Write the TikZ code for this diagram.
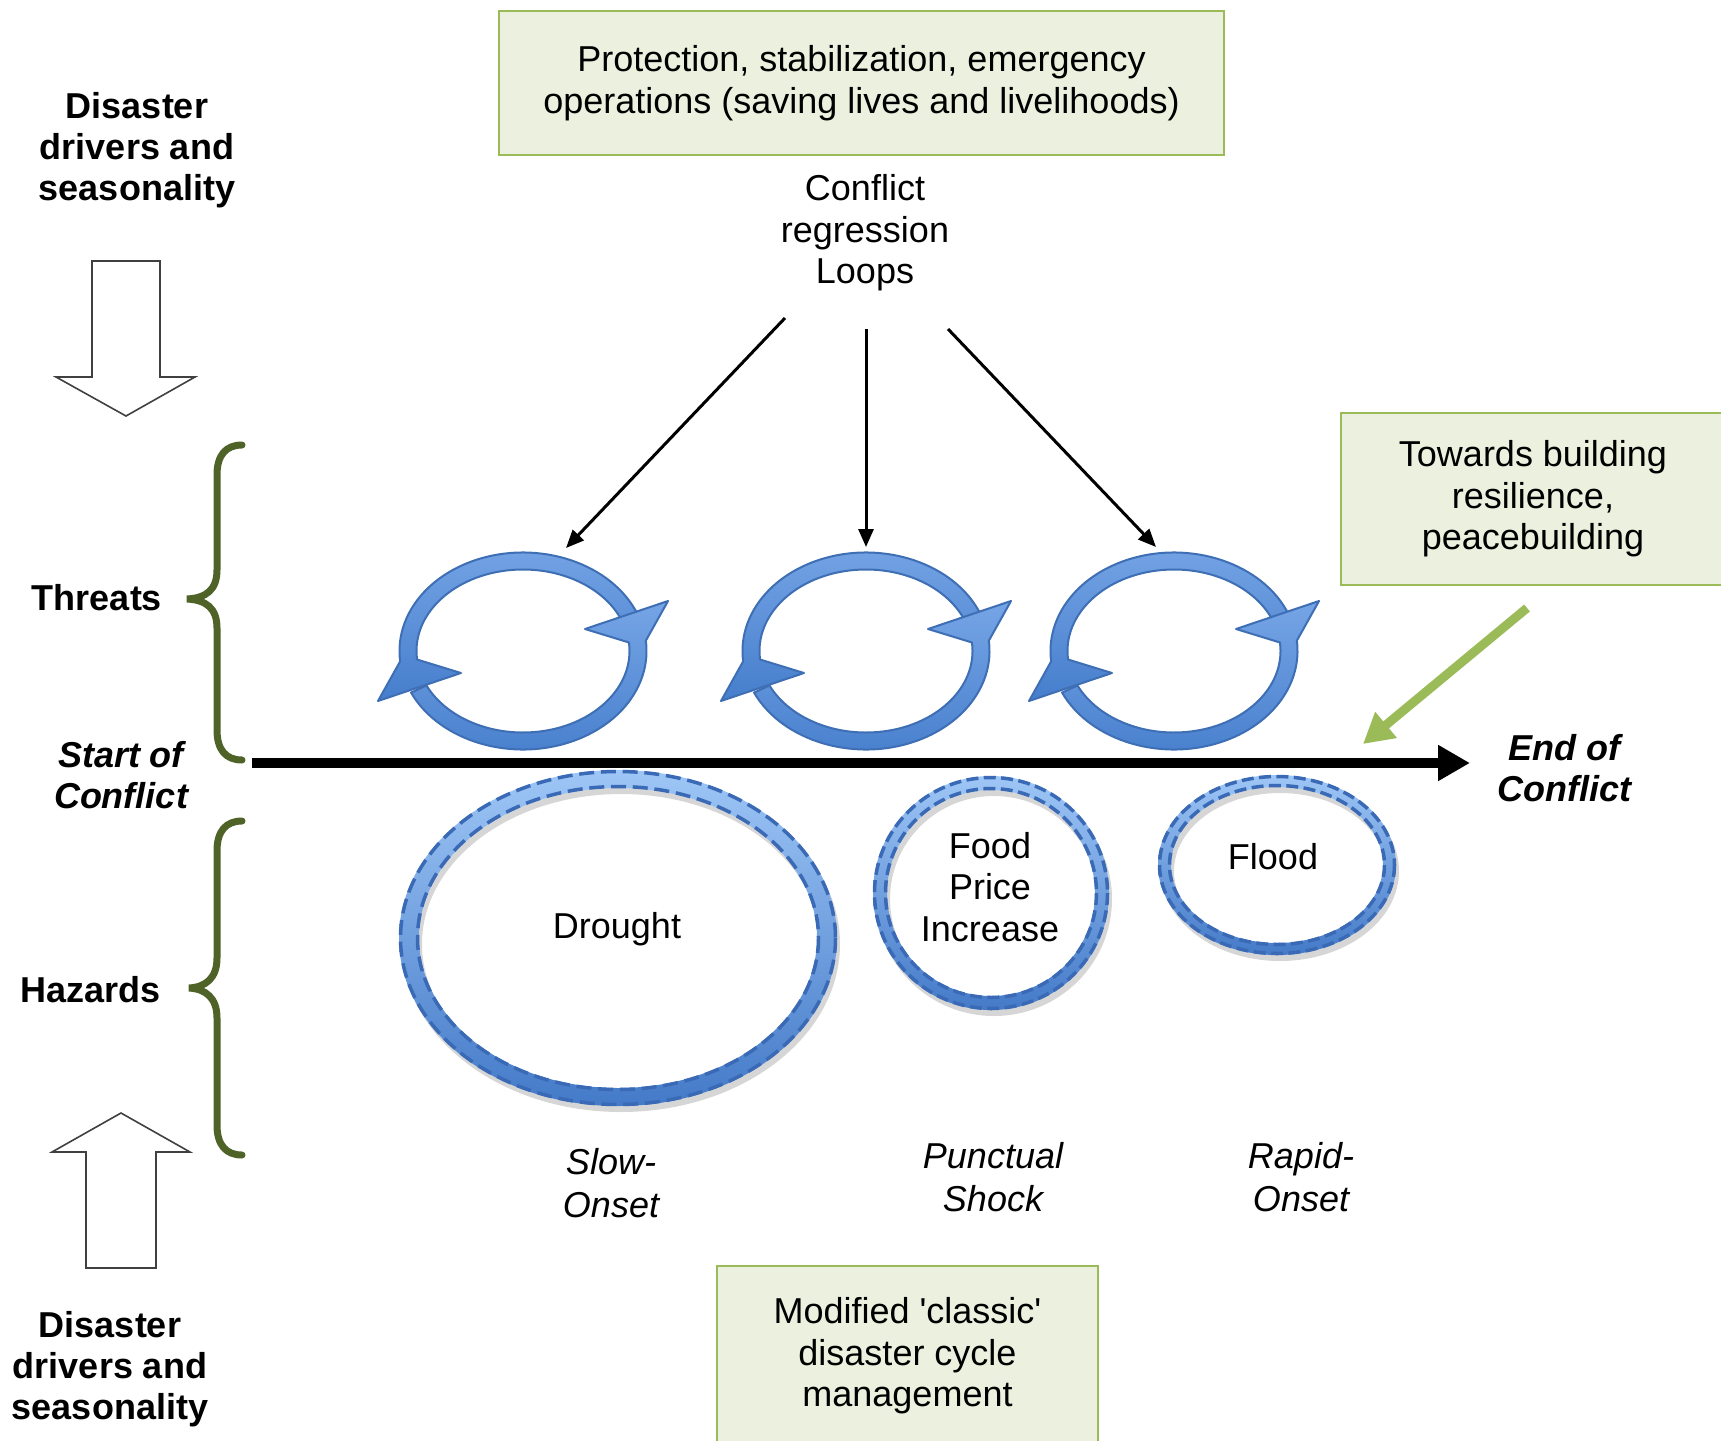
\documentclass[tikz,border=0pt]{standalone}
\usepackage{fontspec}
\setmainfont{Liberation Sans}
\usetikzlibrary{arrows.meta}
\definecolor{boxfill}{RGB}{235,241,222}
\definecolor{boxline}{RGB}{155,187,89}
\definecolor{bracecol}{RGB}{79,98,40}
\definecolor{loopline}{RGB}{62,110,180}
\definecolor{looptop}{RGB}{118,165,230}
\definecolor{loopbot}{RGB}{70,126,204}
\definecolor{hazline}{RGB}{58,106,182}
\definecolor{haztop}{RGB}{158,198,246}
\definecolor{hazbot}{RGB}{68,122,200}
\definecolor{greenarrow}{RGB}{155,187,89}
\newcommand\dfont{\fontsize{36}{41.5}\selectfont}
\newcommand\cycloop[1]{%
 \begin{scope}[shift={(#1)}]
 \path[loopstyle]
   (-22:123.5 and 98.5) arc[start angle=-22, end angle=-186, x radius=123.5, y radius=98.5]
   -- (-145,50) -- (-62,22) -- (-186:106.5 and 81.5)
   arc[start angle=-186, end angle=-22, x radius=106.5, y radius=81.5] -- cycle;
 \path[loopstyle]
   (155:123.5 and 98.5) arc[start angle=155, end angle=-6, x radius=123.5, y radius=98.5]
   -- (145,-50) -- (62,-22) -- (-6:106.5 and 81.5)
   arc[start angle=-6, end angle=155, x radius=106.5, y radius=81.5] -- cycle;
 \end{scope}}
\newcommand\hazring[7]{% cx cy rxo ryo rxi ryi dash
 \fill[black, opacity=0.16, even odd rule] (#1+3,#2+6) ellipse[x radius=#3, y radius=#4] (#1+3,#2+6) ellipse[x radius=#5, y radius=#6];
 \path[even odd rule, top color=haztop, bottom color=hazbot] (#1,#2) ellipse[x radius=#3, y radius=#4] (#1,#2) ellipse[x radius=#5, y radius=#6];
 \draw[hazline, line width=3.5pt, dash pattern=on #7pt off 0.45*#7pt] (#1,#2) ellipse[x radius=#3-1.5, y radius=#4-1.5];
 \draw[hazline, line width=3.5pt, dash pattern=on #7pt off 0.45*#7pt] (#1,#2) ellipse[x radius=#5+1.5, y radius=#6+1.5];}
\tikzset{
 greenbox/.style={draw=boxline, fill=boxfill, line width=2pt, align=center, inner sep=0pt, font=\dfont},
 txt/.style={align=center, inner sep=0pt, font=\dfont},
 lbl/.style={align=center, inner sep=0pt, font=\fontsize{36}{41}\selectfont\bfseries},
 bilbl/.style={align=center, inner sep=0pt, font=\fontsize{36}{41}\selectfont\bfseries\itshape},
 itlbl/.style={align=center, inner sep=0pt, font=\fontsize{36}{43}\selectfont\itshape},
 loopstyle/.style={draw=loopline, line width=2pt, line join=round, top color=looptop, bottom color=loopbot},
 bracestyle/.style={draw=bracecol, line width=7pt, line cap=round},
 blockarrow/.style={draw=black!75, line width=1.6pt, fill=white, line join=miter},
 thinarrow/.style={draw=black, line width=3pt, -{Triangle[length=18pt,width=15pt]}}
}
\begin{document}
\begin{tikzpicture}[x=1pt,y=-1pt]
\useasboundingbox (0,0) rectangle (1721,1440);
% boxes
\node[greenbox, minimum width=725pt, minimum height=144pt] (topbox) at (861.5,83) {Protection, stabilization, emergency\\operations (saving lives and livelihoods)};
\node[greenbox, minimum width=384pt, minimum height=172pt] (rightbox) at (1533,499) {Towards building\\resilience,\\peacebuilding};
\node[greenbox, minimum width=381pt, minimum height=180pt] (botbox) at (907.5,1356) {Modified \textquotesingle classic\textquotesingle\\disaster cycle\\management};
% left labels
\node[lbl] (ddtop) at (137,150) {Disaster\\drivers and\\seasonality};
\node[lbl] (ddbot) at (110,1369) {Disaster\\drivers and\\seasonality};
\node[lbl] (threats) at (97,598) {Threats};
\node[lbl] (hazards) at (91,990) {Hazards};
\node[bilbl] (startc) at (121,775) {Start of\\Conflict};
\node[bilbl] (endc) at (1564,768) {End of\\Conflict};
% block arrows
\path[blockarrow] (92,261) -- (160,261) -- (160,377) -- (195,377) -- (126,416) -- (56,377) -- (92,377) -- cycle;
\path[blockarrow] (86,1268) -- (156,1268) -- (156,1152) -- (190,1152) -- (121,1113) -- (52,1152) -- (86,1152) -- cycle;
% braces
\path[bracestyle] (242,445) .. controls (226,445) and (217,455) .. (217,475) -- (217,570)
  .. controls (217,590) and (206,598) .. (187,599) .. controls (206,600) and (217,608) .. (217,628)
  -- (217,730) .. controls (217,750) and (226,760) .. (242,760);
\path[bracestyle] (242,821) .. controls (226,821) and (217,831) .. (217,851) -- (217,958)
  .. controls (217,978) and (206,987) .. (189,988) .. controls (206,989) and (217,998) .. (217,1018)
  -- (217,1125) .. controls (217,1145) and (226,1155) .. (242,1155);
% conflict regression loops
\node[txt] (crl) at (865,233) {Conflict\\regression\\Loops};
\cycloop{523,651}
\cycloop{866,651}
\cycloop{1174,651}
\coordinate (a1s) at (785,318);
\coordinate (a1e) at (566,548);
\coordinate (a2s) at (866,329);
\coordinate (a2e) at (866,547);
\coordinate (a3s) at (948,329);
\coordinate (a3e) at (1156,547);
\draw[thinarrow] (a1s) -- (a1e);
\draw[thinarrow] (a2s) -- (a2e);
\draw[thinarrow] (a3s) -- (a3e);
% timeline
\coordinate (tls) at (252,763);
\coordinate (tle) at (1470,763);
\draw[line width=10pt, -{Triangle[length=32pt,width=34pt]}] (tls) -- (tle);
% green arrow
\coordinate (gas) at (1527,608);
\coordinate (gae) at (1363,744);
\draw[greenarrow, line width=9pt, -{Triangle[length=30pt,width=32pt]}] (gas) -- (gae);
% hazards
\hazring{618}{938}{219}{168}{199}{150}{15}
\hazring{991}{893}{118}{117}{104}{103}{12}
\hazring{1277}{865}{119}{90}{106}{78}{12}
\node[txt] (drought) at (617,929) {Drought};
\node[txt] (food) at (990,887) {Food\\Price\\Increase};
\node[txt] (flood) at (1273,857) {Flood};
\node[itlbl] (slow) at (611,1183) {Slow-\\Onset};
\node[itlbl] (punct) at (993,1177) {Punctual\\Shock};
\node[itlbl] (rapid) at (1301,1177) {Rapid-\\Onset};
\end{tikzpicture}
\end{document}
